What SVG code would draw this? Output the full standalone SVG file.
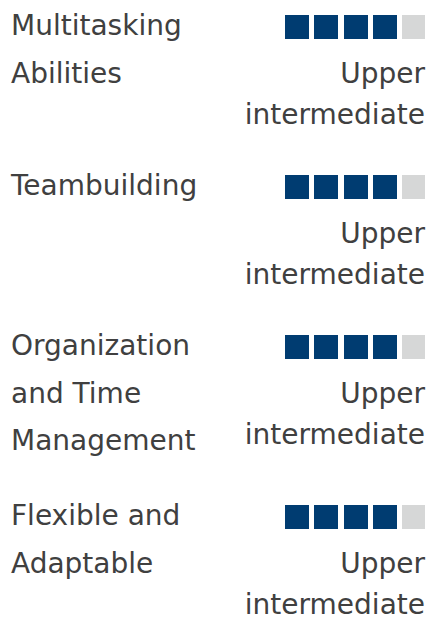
<svg xmlns="http://www.w3.org/2000/svg" width="429" height="621" viewBox="0 0 429 621">
<defs>
<style>
.t{font-family:"DejaVu Sans","Liberation Sans",sans-serif;font-size:28px;fill:#404040}
.r{text-anchor:end}
.on{fill:#003c71}
.off{fill:#d6d7d7}
</style>
<g id="bar">
<rect class="on" x="285" y="0" width="24" height="24"/>
<rect class="on" x="314" y="0" width="24" height="24"/>
<rect class="on" x="344" y="0" width="24" height="24"/>
<rect class="on" x="373" y="0" width="24" height="24"/>
<rect class="off" x="402" y="0" width="23" height="24"/>
</g>
</defs>
<rect width="429" height="621" fill="#ffffff"/>
<g id="skill1">
<text class="t" x="11" y="35">Multitasking</text>
<text class="t" x="11" y="83">Abilities</text>
<use href="#bar" y="15"/>
<text class="t r" x="425" y="83">Upper</text>
<text class="t r" x="425" y="124">intermediate</text>
</g>
<g id="skill2" transform="translate(0,160)">
<text class="t" x="11" y="35">Teambuilding</text>
<use href="#bar" y="15"/>
<text class="t r" x="425" y="83">Upper</text>
<text class="t r" x="425" y="124">intermediate</text>
</g>
<g id="skill3" transform="translate(0,320)">
<text class="t" x="11" y="35">Organization</text>
<text class="t" x="11" y="83">and Time</text>
<text class="t" x="11" y="130">Management</text>
<use href="#bar" y="15"/>
<text class="t r" x="425" y="83">Upper</text>
<text class="t r" x="425" y="124">intermediate</text>
</g>
<g id="skill4" transform="translate(0,490)">
<text class="t" x="11" y="35">Flexible and</text>
<text class="t" x="11" y="83">Adaptable</text>
<use href="#bar" y="15"/>
<text class="t r" x="425" y="83">Upper</text>
<text class="t r" x="425" y="124">intermediate</text>
</g>
</svg>
